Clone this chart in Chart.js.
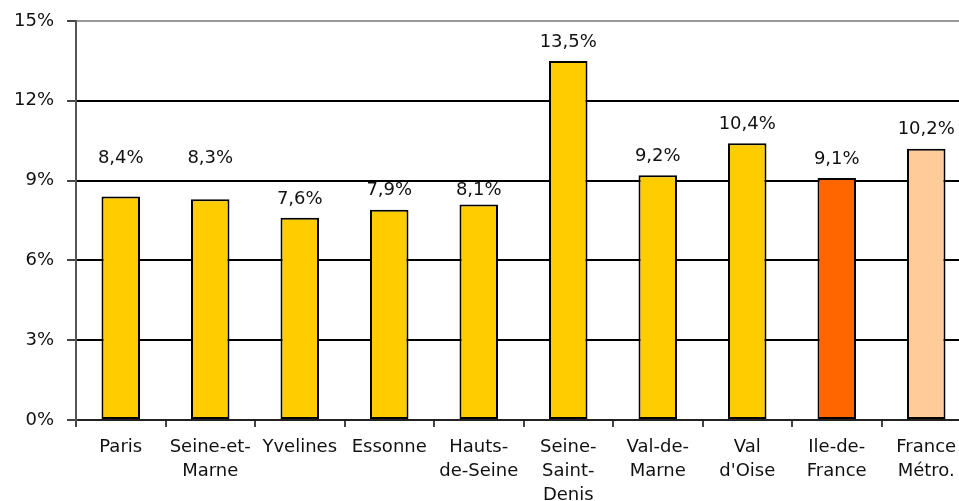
<!DOCTYPE html>
<html>
<head>
<meta charset="utf-8">
<script src="https://cdn.jsdelivr.net/npm/chart.js@4.4.1/dist/chart.umd.min.js"></script>
<style>
  html, body { margin: 0; padding: 0; background: #fff; overflow: hidden; }
  #wrap { width: 975px; height: 501px; }
</style>
</head>
<body>
<div id="wrap"><canvas id="chart" width="975" height="501"></canvas></div>
<script>
// categories, values and tick labels
const categories = [
  ["Paris"], ["Seine-et-", "Marne"], ["Yvelines"], ["Essonne"], ["Hauts-", "de-Seine"],
  ["Seine-", "Saint-", "Denis"], ["Val-de-", "Marne"], ["Val", "d'Oise"], ["Ile-de-", "France"], ["France", "Métro."]
];
const rates = [8.4, 8.3, 7.6, 7.9, 8.1, 13.5, 9.2, 10.4, 9.1, 10.2];
const barColors = ["#FFCC00", "#FFCC00", "#FFCC00", "#FFCC00", "#FFCC00",
  "#FFCC00", "#FFCC00", "#FFCC00", "#FF6600", "#FFCC99"];
const yTicks = [0, 3, 6, 9, 12, 15];

const FONT = "'DejaVu Sans', Verdana, sans-serif";
const fmt = (v) => v.toFixed(1).replace(".", ",") + "%";

// value labels above bars, nudged off the gridlines
const valueLabels = {
  id: "valueLabels",
  afterDatasetsDraw(chart) {
    const ctx = chart.ctx;
    const y = chart.scales.y;
    const grids = yTicks.slice(1, -1).map((t) => y.getPixelForValue(t));
    const meta = chart.getDatasetMeta(0);
    ctx.save();
    ctx.font = "18px " + FONT;
    ctx.fillStyle = "#111";
    ctx.textAlign = "center";
    ctx.textBaseline = "middle";
    meta.data.forEach((bar, i) => {
      let cy = bar.y - 19;
      grids.forEach((g) => {
        if (Math.abs(cy - g) < 11) cy = cy <= g ? g - 22 : g + 10;
      });
      ctx.fillText(fmt(rates[i]), bar.x, cy);
    });
    ctx.restore();
  }
};

new Chart(document.getElementById("chart"), {
  type: "bar",
  data: {
    labels: categories,
    datasets: [{
      data: rates,
      backgroundColor: barColors,
      borderColor: "#000",
      borderWidth: 2,
      borderSkipped: false,
      barPercentage: 0.43,
      categoryPercentage: 1
    }]
  },
  options: {
    responsive: false,
    devicePixelRatio: 1,
    animation: false,
    layout: { padding: { top: 21, right: 4, left: 0, bottom: 0 } },
    plugins: { legend: { display: false }, tooltip: { enabled: false } },
    scales: {
      x: {
        grid: { display: true, drawOnChartArea: false, drawTicks: true, tickLength: 7, color: "#444", lineWidth: 2, offset: true },
        border: { display: true, color: "#222", width: 2 },
        ticks: { color: "#111", font: { family: FONT, size: 18, lineHeight: 1.33 }, padding: 8, maxRotation: 0, autoSkip: false },
        afterFit(s) { s.height = 81; }
      },
      y: {
        min: 0,
        max: 15,
        afterBuildTicks(s) { s.ticks = yTicks.map((v) => ({ value: v })); },
        grid: {
          color: (c) => (c.tick && c.tick.value === 15 ? "#999" : "#000"),
          tickColor: "#444",
          lineWidth: 2,
          tickLength: 9
        },
        border: { display: true, color: "#555", width: 2 },
        ticks: { color: "#111", font: { family: FONT, size: 18 }, padding: 13, callback: (v) => v + "%" },
        afterFit(s) { s.width = 76; s.paddingTop = 0; s.paddingBottom = 0; }
      }
    }
  },
  plugins: [valueLabels]
});
</script>
</body>
</html>
